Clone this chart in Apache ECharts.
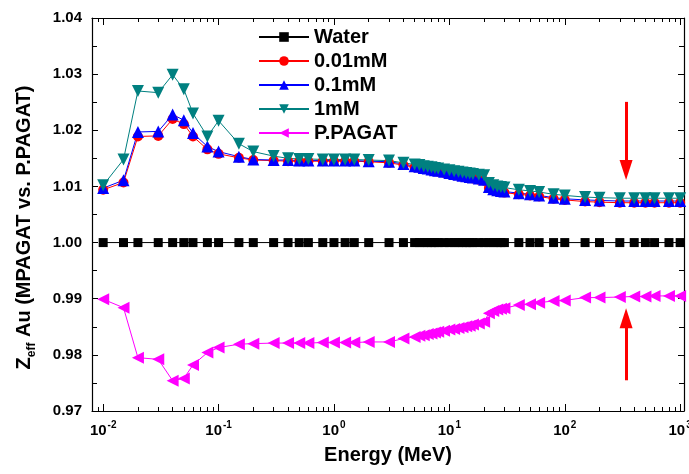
<!DOCTYPE html>
<html>
<head>
<meta charset="utf-8">
<script src="https://cdn.jsdelivr.net/npm/echarts@6/dist/echarts.min.js"></script>
<style>html,body{margin:0;padding:0;background:#fff;}#c{width:689px;height:474px;}</style>
</head>
<body>
<div id="c"></div>
<script>
const energy = [0.01, 0.015, 0.02, 0.03, 0.04, 0.05, 0.06, 0.08, 0.1, 0.15, 0.2, 0.3, 0.4, 0.5, 0.6, 0.8, 1, 1.25, 1.5, 2, 3, 4, 5, 5.5, 6, 6.5, 7, 7.5, 8, 9, 10, 11, 12, 13, 14, 15, 16, 18, 20, 22, 24, 26, 28, 30, 40, 50, 60, 80, 100, 150, 200, 300, 400, 500, 600, 800, 1000];

const water = energy.map(() => 1.0);

const mM001 = [1.0094, 1.0107, 1.0189, 1.0190, 1.0220, 1.0211, 1.0189, 1.0166, 1.0158, 1.0151, 1.0147, 1.0146, 1.0145, 1.0145, 1.0145, 1.0145, 1.0145, 1.0145, 1.0145, 1.0144, 1.0142, 1.0138, 1.0134, 1.0133, 1.0131, 1.0130, 1.0128, 1.0127, 1.0126, 1.0124, 1.0122, 1.0120, 1.0119, 1.0117, 1.0116, 1.0115, 1.0114, 1.0112, 1.0110, 1.0097, 1.0093, 1.0091, 1.0090, 1.0089, 1.0086, 1.0084, 1.0082, 1.0078, 1.0076, 1.0073, 1.0072, 1.0071, 1.0071, 1.0071, 1.0071, 1.0071, 1.0071];

const mM01 = [1.0097, 1.0111, 1.0197, 1.0198, 1.0228, 1.0218, 1.0195, 1.0171, 1.0162, 1.0153, 1.0148, 1.0147, 1.0147, 1.0146, 1.0146, 1.0146, 1.0146, 1.0146, 1.0146, 1.0145, 1.0144, 1.0140, 1.0136, 1.0135, 1.0133, 1.0132, 1.0130, 1.0129, 1.0128, 1.0126, 1.0124, 1.0122, 1.0121, 1.0119, 1.0118, 1.0117, 1.0116, 1.0114, 1.0112, 1.0099, 1.0095, 1.0093, 1.0092, 1.0091, 1.0088, 1.0086, 1.0084, 1.0080, 1.0078, 1.0076, 1.0075, 1.0074, 1.0074, 1.0074, 1.0074, 1.0074, 1.0074];

const mM1 = [1.0102, 1.0148, 1.0270, 1.0267, 1.0299, 1.0273, 1.0230, 1.0189, 1.0217, 1.0176, 1.0162, 1.0154, 1.0150, 1.0149, 1.0149, 1.0148, 1.0148, 1.0148, 1.0148, 1.0147, 1.0146, 1.0142, 1.0139, 1.0138, 1.0136, 1.0135, 1.0134, 1.0133, 1.0132, 1.0130, 1.0129, 1.0127, 1.0126, 1.0125, 1.0124, 1.0123, 1.0122, 1.0121, 1.0120, 1.0106, 1.0102, 1.0100, 1.0099, 1.0098, 1.0094, 1.0092, 1.0090, 1.0086, 1.0084, 1.0081, 1.0080, 1.0079, 1.0079, 1.0079, 1.0079, 1.0079, 1.0079];

const ppagat = [0.9899, 0.9884, 0.9795, 0.9792, 0.9754, 0.9758, 0.9782, 0.9804, 0.9813, 0.9819, 0.9820, 0.9821, 0.9821, 0.9821, 0.9821, 0.9822, 0.9822, 0.9822, 0.9822, 0.9823, 0.9823, 0.9829, 0.9832, 0.9834, 0.9835, 0.9837, 0.9838, 0.9840, 0.9841, 0.9843, 0.9845, 0.9846, 0.9848, 0.9849, 0.9851, 0.9852, 0.9854, 0.9856, 0.9859, 0.9874, 0.9878, 0.9881, 0.9882, 0.9883, 0.9889, 0.9890, 0.9893, 0.9896, 0.9897, 0.9902, 0.9902, 0.9903, 0.9904, 0.9904, 0.9905, 0.9905, 0.9905];

const xMajor = [0.01, 0.1, 1, 10, 100, 1000];
const xMinor = [0.008, 0.009, 0.02, 0.03, 0.04, 0.05, 0.06, 0.07, 0.08, 0.09, 0.2, 0.3, 0.4, 0.5, 0.6, 0.7, 0.8, 0.9, 2, 3, 4, 5, 6, 7, 8, 9, 20, 30, 40, 50, 60, 70, 80, 90, 200, 300, 400, 500, 600, 700, 800, 900];

const arrowDown = [[340, 1.02506], [340, 1.01293]];
const arrowUp = [[340, 0.97547], [340, 0.98653]];

const FONT = "'Liberation Sans', Arial, sans-serif";
const pair = (ys) => energy.map((e, i) => [e, ys[i]]);

const chart = echarts.init(document.getElementById('c'), null, {renderer: 'canvas'});

function xAxisDef(pos, ticks, len, showLine, showLabel) {
  return {
    type: 'log', position: pos, min: 0.008, max: 1080, logBase: 10,
    axisLine: {show: showLine, lineStyle: {color: '#000', width: 1.2}},
    axisTick: {show: true, inside: true, length: len, customValues: ticks, lineStyle: {color: '#000', width: 1}},
    axisLabel: showLabel ? {
      show: true, customValues: xMajor, margin: 9, hideOverlap: false,
      formatter: function (v) {
        const e = Math.round(Math.log10(v));
        return '{b|10}{s|' + e + '}';
      },
      rich: {
        b: {fontSize: 15, fontWeight: 'bold', fontFamily: FONT, color: '#000', lineHeight: 18, verticalAlign: 'bottom'},
        s: {fontSize: 10, fontWeight: 'bold', fontFamily: FONT, color: '#000', lineHeight: 18, verticalAlign: 'top', padding: [0, 0, 0, 1]}
      }
    } : {show: false},
    splitLine: {show: false},
    minorTick: {show: false},
    minorSplitLine: {show: false}
  };
}

const xAxes = [
  Object.assign(xAxisDef('bottom', xMajor, 7, true, true), {
    name: 'Energy (MeV)', nameLocation: 'middle', nameGap: 34,
    nameTextStyle: {fontSize: 20, fontWeight: 'bold', fontFamily: FONT, color: '#000'}
  }),
  xAxisDef('bottom', xMinor, 4, false, false),
  xAxisDef('top', xMajor, 7, true, false),
  xAxisDef('top', xMinor, 4, false, false)
];

function yAxisDef(pos, showLabel) {
  return {
    type: 'value', position: pos, min: 0.97, max: 1.04, interval: 0.01,
    axisLine: {show: true, lineStyle: {color: '#000', width: 1.2}},
    axisTick: {show: true, inside: true, length: 6, lineStyle: {color: '#000', width: 1}},
    minorTick: {show: true, splitNumber: 2, length: 5, lineStyle: {color: '#000', width: 1}},
    axisLabel: showLabel ? {
      show: true, margin: 10, fontSize: 15, fontWeight: 'bold', fontFamily: FONT, color: '#000',
      formatter: v => v.toFixed(2)
    } : {show: false},
    splitLine: {show: false}
  };
}

const yAxes = [
  Object.assign(yAxisDef('left', true), {
    name: '{z|Z}{sub|eff}{n| Au (MPAGAT vs. P.PAGAT)}',
    nameLocation: 'middle', nameGap: 58,
    nameTextStyle: {
      padding: [0, 26, 0, 0],
      rich: {
        z: {fontSize: 20, fontWeight: 'bold', fontFamily: FONT, color: '#000'},
        sub: {fontSize: 12, fontWeight: 'bold', fontFamily: FONT, color: '#000', verticalAlign: 'bottom', padding: [0, 0, -4, 0]},
        n: {fontSize: 20, fontWeight: 'bold', fontFamily: FONT, color: '#000'}
      }
    }
  }),
  yAxisDef('right', false)
];

function lineSeries(name, data, color, symbol, size, rot) {
  return {
    name: name, type: 'line', xAxisIndex: 0, yAxisIndex: 0,
    data: pair(data), symbol: symbol, symbolSize: size, symbolRotate: rot,
    showAllSymbol: true, showSymbol: true,
    lineStyle: {color: color, width: 1},
    itemStyle: {color: color, borderWidth: 0},
    emphasis: {disabled: true},
    animation: false
  };
}

const arrowStyle = {color: '#ff0000', width: 3, type: 'solid'};
const series = [
  lineSeries('Water', water, '#000000', 'rect', 9, 0),
  lineSeries('0.01mM', mM001, '#ff0000', 'circle', 10, 0),
  lineSeries('0.1mM', mM01, '#0000ff', 'triangle', 12, 0),
  lineSeries('1mM', mM1, '#008080', 'triangle', 12, 180),
  lineSeries('P.PAGAT', ppagat, '#ff00ff', 'triangle', 12, 90)
];
series[0].markLine = {
  silent: true, animation: false,
  symbol: ['none', 'triangle'], symbolSize: [13, 20],
  label: {show: false},
  lineStyle: arrowStyle,
  itemStyle: {color: '#ff0000'},
  emphasis: {disabled: true},
  data: [
    [{coord: arrowDown[0]}, {coord: arrowDown[1]}],
    [{coord: arrowUp[0]}, {coord: arrowUp[1]}]
  ]
};

chart.setOption({
  backgroundColor: '#ffffff',
  animation: false,
  grid: {left: 92, right: 5, top: 18, bottom: 63, containLabel: false, outerBoundsMode: 'none'},
  legend: {
    orient: 'vertical', left: 258, top: 27, padding: 0,
    itemWidth: 50, itemHeight: 12, itemGap: 4,
    textStyle: {fontSize: 20, fontWeight: 'bold', fontFamily: FONT, color: '#000', lineHeight: 20},
    data: ['Water', '0.01mM', '0.1mM', '1mM', 'P.PAGAT'],
    selectedMode: false
  },
  xAxis: xAxes,
  yAxis: yAxes,
  series: series
});
</script>
</body>
</html>
